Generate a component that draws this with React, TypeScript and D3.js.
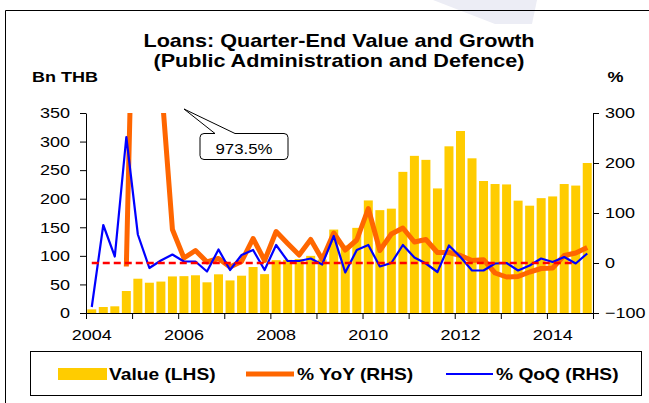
import React, { useEffect, useRef } from 'react';
import * as d3 from 'd3';

// quarter-end data, 2004Q1 .. 2014Q4
const years = [2004, 2005, 2006, 2007, 2008, 2009, 2010, 2011, 2012, 2013, 2014];
const quarters = years.flatMap(y => ['Q1', 'Q2', 'Q3', 'Q4'].map(q => `${y}${q}`));

const valueBn = [6.4, 10.5, 11.7, 38.5, 60, 53, 55, 64, 64.5, 66, 53.7, 67.7, 57, 65.3, 80.5, 68,
  92.5, 93, 94.5, 100, 93.5, 146, 118, 149, 197, 180, 182.6, 247, 275, 268, 218, 291.7,
  318.5, 270.7, 231, 225.7, 225, 196.6, 187.8, 201, 204, 225.7, 223, 262.5];

const yoyPct = [null, null, null, -7, 973.5, 405, 370, 67, 10, 25, 2, 9, -8, 3, 49, 5,
  63, 39, 16, 47, 7, 60, 26, 46, 109, 25, 58, 70, 42, 47, 21, 21,
  15, 5, 6.7, -20, -28, -27, -18, -11, -10, 15, 20, 31];

const qoqPct = [-88, 76, 13, 252, 57, -10, 5, 17, 3, 3, -17, 27, -14, 16, 26, -14,
  36, 4, 4, 9, -3, 54, -19, 26, 36, -7, 0, 36, 11, -1, -18, 35,
  12, -15, -15, -1, 0, -15, -5, 9, 2, 12, -1, 19];

const leftTicks = [0, 50, 100, 150, 200, 250, 300, 350];
const rightTicks = [-100, 0, 100, 200, 300];
const yearLabels = [2004, 2006, 2008, 2010, 2012, 2014];
const calloutText = '973.5%';

const W = 649, H = 403;
const plot = { left: 86, right: 593, top: 113, bottom: 313 };
const FONT = '"Liberation Sans", Arial, sans-serif';
const SX = 1.2; // the source text is drawn a little wide

const App = () => {
  const ref = useRef<SVGSVGElement>(null);

  useEffect(() => {
    const svg = d3.select(ref.current);
    svg.selectAll('*').remove();

    const label = (str, x, y, size, weight = 'normal', anchor = 'start') =>
      svg.append('text')
        .attr('transform', `translate(${x},${y}) scale(${SX},1)`)
        .attr('text-anchor', anchor)
        .attr('font-family', FONT)
        .attr('font-size', size)
        .attr('font-weight', weight)
        .attr('fill', '#000')
        .text(str);

    svg.append('rect').attr('width', W).attr('height', H).attr('fill', '#fff');

    // faint watermark at the top
    svg.append('polygon')
      .attr('points', '433,0 537,0 532,24 495,24')
      .attr('fill', '#ECEDF5');

    // chart frame (cropped on the right / bottom)
    svg.append('path')
      .attr('d', `M5.5,${H} V10.5 H${W}`)
      .attr('fill', 'none').attr('stroke', '#000');

    // scales
    const x = d3.scaleBand().domain(quarters)
      .range([plot.left, plot.right]).paddingInner(0.22).paddingOuter(0.11);
    const xq = d3.scaleLinear().domain([0, quarters.length]).range([plot.left, plot.right]);
    const yL = d3.scaleLinear().domain([0, 350]).range([plot.bottom, plot.top]);
    const yR = d3.scaleLinear().domain([-100, 300]).range([plot.bottom, plot.top]);
    const cx = (i: number) => (x(quarters[i]) as number) + x.bandwidth() / 2;

    // titles
    label('Loans: Quarter-End Value and Growth', 339, 47, 18, 'bold', 'middle');
    label('(Public Administration and Defence)', 339, 67, 18, 'bold', 'middle');
    label('Bn THB', 32, 82, 15, 'bold');
    label('%', 615.5, 82, 15, 'bold', 'middle');

    // bars
    svg.append('g').selectAll('rect')
      .data(valueBn)
      .enter().append('rect')
      .attr('x', (d, i) => x(quarters[i]))
      .attr('y', d => yL(d))
      .attr('width', x.bandwidth())
      .attr('height', d => yL(0) - yL(d))
      .attr('fill', '#FFCC00');

    // lines, clipped to plot area
    svg.append('clipPath').attr('id', 'plotclip')
      .append('rect')
      .attr('x', plot.left).attr('y', plot.top)
      .attr('width', plot.right - plot.left).attr('height', plot.bottom - plot.top);

    const lineR = d3.line<number | null>()
      .defined(d => d != null)
      .x((d, i) => cx(i))
      .y(d => yR(d as number));

    const lines = svg.append('g').attr('clip-path', 'url(#plotclip)');

    lines.append('path')
      .attr('d', lineR(yoyPct))
      .attr('fill', 'none').attr('stroke', '#FF6600')
      .attr('stroke-width', 5).attr('stroke-linejoin', 'round');

    lines.append('path')
      .attr('d', lineR(qoqPct))
      .attr('fill', 'none').attr('stroke', '#0000FF')
      .attr('stroke-width', 2.2).attr('stroke-linejoin', 'round');

    // zero reference (red dashed)
    lines.append('line')
      .attr('x1', cx(0)).attr('x2', cx(quarters.length - 2))
      .attr('y1', yR(0)).attr('y2', yR(0))
      .attr('stroke', '#FF0000').attr('stroke-width', 2.3)
      .attr('stroke-dasharray', '7,4');

    // axes
    const gL = svg.append('g')
      .attr('transform', `translate(${plot.left},0)`)
      .call(d3.axisLeft(yL).tickValues(leftTicks).tickSize(6).tickSizeOuter(0));
    gL.selectAll('text')
      .attr('x', 0)
      .attr('transform', `translate(-16,0) scale(${SX},1)`);

    const gR = svg.append('g')
      .attr('transform', `translate(${plot.right},0)`)
      .call(d3.axisRight(yR).tickValues(rightTicks).tickSize(6).tickSizeOuter(0));
    gR.selectAll('text')
      .attr('x', 0)
      .attr('transform', `translate(12,0) scale(${SX},1)`);

    const gX = svg.append('g')
      .attr('transform', `translate(0,${plot.bottom})`)
      .call(d3.axisBottom(xq).tickValues(d3.range(0, quarters.length + 1, 4))
        .tickSize(6).tickSizeOuter(0).tickFormat(() => ''));

    [gL, gR, gX].forEach(g => {
      g.selectAll('text').attr('font-family', FONT).attr('font-size', 15).attr('fill', '#000');
      g.selectAll('path, line').attr('stroke', '#000');
    });

    yearLabels.forEach(yr => {
      label(String(yr), cx(quarters.indexOf(`${yr}Q1`)), 340, 15, 'normal', 'middle');
    });

    // callout for the off-scale YoY point
    const bx0 = 200, bx1 = 288, by0 = 133.5, by1 = 159.5, r = 4;
    const tipX = 184, tipY = 109;
    svg.append('path')
      .attr('d', `M${bx0 + r},${by0} L215,${by0} L${tipX},${tipY} L235,${by0} L${bx1 - r},${by0}
        Q${bx1},${by0} ${bx1},${by0 + r} L${bx1},${by1 - r} Q${bx1},${by1} ${bx1 - r},${by1}
        L${bx0 + r},${by1} Q${bx0},${by1} ${bx0},${by1 - r} L${bx0},${by0 + r} Q${bx0},${by0} ${bx0 + r},${by0} Z`)
      .attr('fill', '#fff').attr('stroke', '#000').attr('stroke-width', 1);
    label(calloutText, (bx0 + bx1) / 2, 153.5, 14, 'normal', 'middle');

    // legend
    svg.append('rect')
      .attr('x', 30.5).attr('y', 351.5).attr('width', 611).attr('height', 44)
      .attr('fill', '#fff').attr('stroke', '#000');
    svg.append('rect')
      .attr('x', 58).attr('y', 368).attr('width', 49).attr('height', 12)
      .attr('fill', '#FFCC00');
    label('Value (LHS)', 109, 380, 16, 'bold');
    svg.append('line')
      .attr('x1', 246).attr('x2', 294).attr('y1', 374).attr('y2', 374)
      .attr('stroke', '#FF6600').attr('stroke-width', 5);
    label('% YoY (RHS)', 297, 380, 16, 'bold');
    svg.append('line')
      .attr('x1', 446).attr('x2', 493).attr('y1', 374).attr('y2', 374)
      .attr('stroke', '#0000FF').attr('stroke-width', 2.2);
    label('% QoQ (RHS)', 496, 380, 16, 'bold');
  }, []);

  return (
    <svg ref={ref} width={W} height={H}
      style={{ position: 'absolute', left: 0, top: 0, display: 'block' }} />
  );
};

export default App;
